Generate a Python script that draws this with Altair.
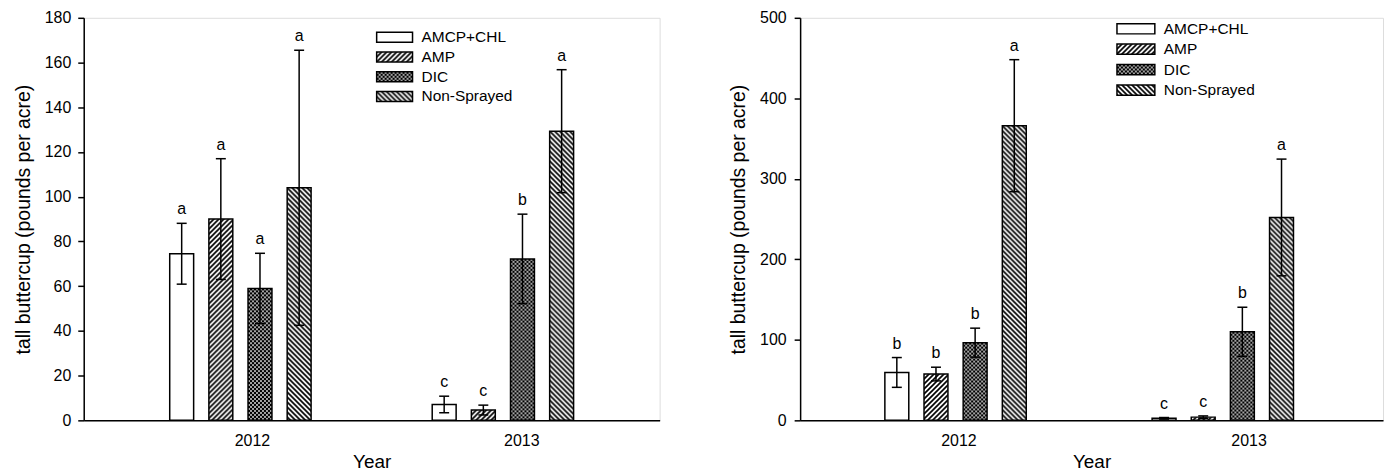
import urllib.parse
import altair as alt
import pandas as pd

FONT = "Liberation Sans"

treatments = ["AMCP+CHL", "AMP", "DIC", "Non-Sprayed"]
years = ["2012", "2013"]

# Left panel
left_mean_2012 = [74.5, 90.0, 59.0, 104.0]
left_se_2012 = [13.6, 27.0, 15.7, 61.5]
left_letters_2012 = ["a", "a", "a", "a"]
left_mean_2013 = [7.1, 4.6, 72.2, 129.3]
left_se_2013 = [3.7, 2.2, 20.0, 27.5]
left_letters_2013 = ["c", "c", "b", "a"]

# Right panel
right_mean_2012 = [59.5, 57.5, 96.5, 366.0]
right_se_2012 = [18.5, 8.5, 18.0, 82.0]
right_letters_2012 = ["b", "b", "b", "a"]
right_mean_2013 = [2.5, 4.0, 110.0, 252.0]
right_se_2013 = [1.0, 1.5, 30.5, 72.5]
right_letters_2013 = ["c", "c", "b", "a"]

# hatch styles (SVG patterns drawn as images)
HATCH = {
    "AMCP+CHL": "width='4' height='4'><rect width='4' height='4' fill='white'/>",
    "AMP": "width='5' height='5'><rect width='5' height='5' fill='white'/>"
           "<path d='M0,5L5,0M-1.25,1.25L1.25,-1.25M3.75,6.25L6.25,3.75' stroke='black' stroke-width='1.7'/>",
    "DIC": "width='4' height='4'><rect width='4' height='4' fill='black'/>"
           "<rect x='0.2' y='0.2' width='1.6' height='1.6' fill='white'/>"
           "<rect x='2.2' y='2.2' width='1.6' height='1.6' fill='white'/>",
    "Non-Sprayed": "width='5' height='5'><rect width='5' height='5' fill='white'/>"
                   "<path d='M0,0L5,5M3.75,-1.25L6.25,1.25M-1.25,3.75L1.25,6.25' stroke='black' stroke-width='1.7'/>",
}


def data_url(body):
    svg = ("<svg xmlns='http://www.w3.org/2000/svg' width='100%' height='100%'>"
           "<defs><pattern id='p' patternUnits='userSpaceOnUse' " + body + "</pattern></defs>"
           "<rect x='0' y='0' width='100%' height='100%' fill='url(#p)'/></svg>")
    return "data:image/svg+xml;charset=utf-8," + urllib.parse.quote(svg)


PATTERN_URL = {t: data_url(HATCH[t]) for t in treatments}

PLOT_H = 404


def panel(m12, s12, l12, m13, s13, l13, ymax, ystep, width, po_x, pi_o, off_range,
          title_pad, label_pad, lab_off, leg_x0, leg_x1, leg_tx, leg_range):
    rows = []
    for yr, ms, ss, ls in ((years[0], m12, s12, l12), (years[1], m13, s13, l13)):
        for t, m, s, l in zip(treatments, ms, ss, ls):
            rows.append({"year": yr, "treatment": t, "mean": m, "lo": max(m - s, 0.0),
                         "hi": m + s, "letter": l, "pattern": PATTERN_URL[t]})
    df = pd.DataFrame(rows)

    xaxis = alt.Axis(title="Year", labelAngle=0, ticks=False, tickSize=0, labelPadding=12,
                     labelOffset={"condition": {"test": "datum.value === '2013'", "value": lab_off[1]},
                                  "value": lab_off[0]},
                     domainColor="black", domainWidth=1.5, labelFontSize=16, labelColor="black",
                     labelFont=FONT, titleFont=FONT, titleFontSize=19, titleFontWeight="normal",
                     titleColor="black", titlePadding=4)
    x = alt.X("year:N", sort=years,
              scale=alt.Scale(domain=years, paddingInner=0, paddingOuter=po_x), axis=xaxis)
    xo = alt.XOffset("treatment:N", sort=treatments,
                     scale=alt.Scale(domain=treatments, paddingInner=pi_o, paddingOuter=0,
                                     range=off_range))
    ys = alt.Scale(domain=[0, ymax], nice=False)
    yax = alt.Axis(title="tall buttercup (pounds per acre)", values=list(range(0, ymax + 1, ystep)),
                   grid=False, tickSize=6, tickWidth=1.5, tickColor="black", domainColor="black",
                   domainWidth=1.5, labelFontSize=16, labelColor="black", labelFont=FONT,
                   labelPadding=label_pad, titleFont=FONT, titleFontSize=19.5,
                   titleFontWeight="normal", titleColor="black", titlePadding=title_pad)

    def Y(f):
        return alt.Y(f, type="quantitative", scale=ys, axis=yax)

    base = alt.Chart(df).encode(x=x, xOffset=xo)
    fill = base.mark_image(aspect=False).encode(y=Y("mean"), y2=alt.Y2Datum(0), url="pattern:N")
    outline = base.mark_bar(fill="white", fillOpacity=0, stroke="black", strokeWidth=1.5).encode(y=Y("mean"))
    err = base.mark_rule(color="black", strokeWidth=1.5).encode(y=Y("lo"), y2="hi:Q")
    cap_hi = base.mark_tick(color="black", size=10, thickness=1.5, opacity=1).encode(y=Y("hi"))
    cap_lo = base.mark_tick(color="black", size=10, thickness=1.5, opacity=1).encode(y=Y("lo"))
    letters = base.mark_text(font=FONT, fontSize=16, baseline="alphabetic", dy=-9,
                             color="black").encode(y=Y("hi"), text="letter:N")
    data_layer = alt.layer(fill, outline, err, cap_hi, cap_lo, letters)

    leg = pd.DataFrame({"treatment": treatments, "pattern": [PATTERN_URL[t] for t in treatments]})
    ly = alt.Y("treatment:N", sort=treatments,
               scale=alt.Scale(type="band", domain=treatments, range=leg_range,
                               paddingInner=0.5, paddingOuter=0.25), axis=None)
    lbase = alt.Chart(leg).encode(y=ly)
    limg = lbase.mark_image(aspect=False).encode(x=alt.value(leg_x0), x2=alt.value(leg_x1), url="pattern:N")
    lbox = lbase.mark_rect(fill="white", fillOpacity=0, stroke="black", strokeWidth=1.5).encode(
        x=alt.value(leg_x0), x2=alt.value(leg_x1))
    ltxt = lbase.mark_text(font=FONT, fontSize=15.5, align="left", baseline="middle",
                           color="black").encode(x=alt.value(leg_tx), text="treatment:N")
    legend_layer = alt.layer(limg, lbox, ltxt)

    return alt.layer(data_layer, legend_layer).resolve_scale(y="independent").properties(
        width=width, height=PLOT_H)


left = panel(left_mean_2012, left_se_2012, left_letters_2012,
             left_mean_2013, left_se_2013, left_letters_2013,
             180, 20, 578, 0.097, 0.389, [60.75, 202.65], 11, 7, [12, 19],
             294, 330, 339, [9.6, 88.9])
right = panel(right_mean_2012, right_se_2012, right_letters_2012,
              right_mean_2013, right_se_2013, right_letters_2013,
              500, 100, 585, 0.0906, 0.39, [61.55, 206.65], 11, 8, [1, 24],
              318, 356, 365, [0.75, 82.75])

chart = alt.hconcat(left, right, spacing=67).properties(
    padding={"left": 4, "top": 0, "right": 0, "bottom": 0}
).configure_view(stroke=None).configure(font=FONT)

chart.save("out.html", embed_options={"renderer": "svg", "actions": False})
